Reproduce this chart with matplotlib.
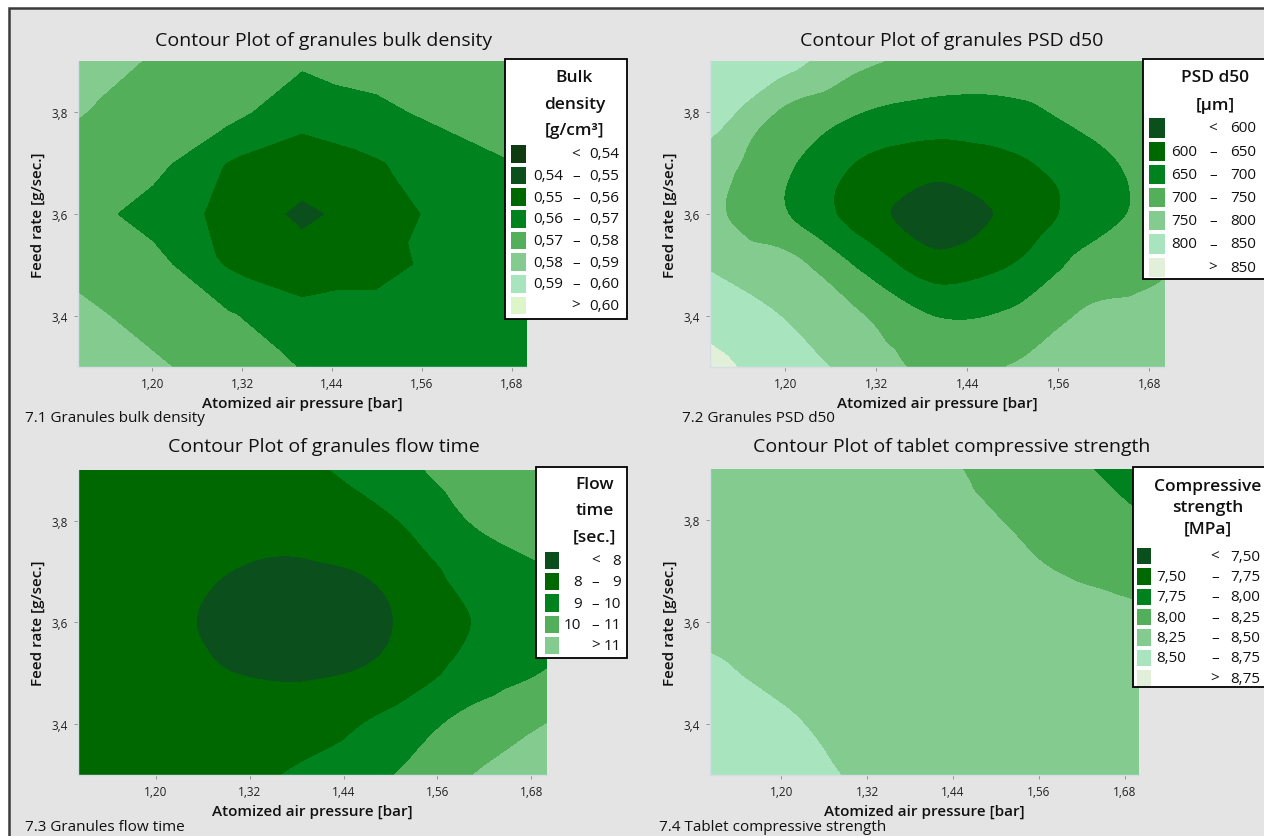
import numpy as np
import matplotlib
matplotlib.use('Agg')
import matplotlib.pyplot as plt
import matplotlib.tri as mtri
from matplotlib.patches import Rectangle

plt.rcParams['font.family'] = ['Open Sans', 'DejaVu Sans']

# grid of the response surface (atomized air pressure x feed rate)
pressure = [1.10, 1.20, 1.30, 1.40, 1.50, 1.60, 1.70]
feed = [3.30, 3.40, 3.50, 3.60, 3.70, 3.80, 3.90]

# rows = feed 3.3 -> 3.9, columns = pressure 1.1 -> 1.7
bulk_z = [
    [0.5860, 0.5815, 0.5755, 0.5695, 0.5655, 0.5645, 0.5650],
    [0.5825, 0.5765, 0.5712, 0.5625, 0.5625, 0.5625, 0.5635],
    [0.5770, 0.5738, 0.5590, 0.5553, 0.5575, 0.5625, 0.5650],
    [0.5748, 0.5653, 0.5575, 0.5475, 0.5550, 0.5633, 0.5675],
    [0.5765, 0.5734, 0.5596, 0.5563, 0.5590, 0.5660, 0.5705],
    [0.5805, 0.5760, 0.5735, 0.5625, 0.5680, 0.5725, 0.5750],
    [0.5855, 0.5790, 0.5755, 0.5716, 0.5735, 0.5765, 0.5780],
]
psd_z = [
    [865, 821, 783, 735, 752, 765, 772],
    [830, 797, 752, 698, 708, 756, 762],
    [795, 768, 690, 619, 650, 718, 745],
    [763, 702, 626, 572, 613, 674, 722],
    [778, 709, 645, 621, 640, 682, 725],
    [830, 740, 700, 683, 688, 715, 730],
    [845, 818, 760, 735, 730, 735, 740],
]
flow_z = [
    [8.55, 8.45, 8.70, 9.25, 9.95, 10.95, 11.60],
    [8.60, 8.35, 8.30, 8.55, 9.30, 10.30, 11.00],
    [8.65, 8.30, 8.00, 7.93, 8.25, 9.35, 10.05],
    [8.60, 8.20, 7.85, 7.75, 7.97, 8.97, 9.60],
    [8.65, 8.30, 7.99, 7.93, 8.20, 9.35, 9.95],
    [8.70, 8.45, 8.25, 8.30, 8.90, 10.00, 10.60],
    [8.75, 8.60, 8.50, 8.85, 9.60, 10.50, 10.90],
]
strength_z = [
    [8.62, 8.56, 8.49, 8.45, 8.42, 8.40, 8.38],
    [8.58, 8.52, 8.46, 8.43, 8.40, 8.38, 8.36],
    [8.52, 8.47, 8.44, 8.41, 8.38, 8.35, 8.33],
    [8.47, 8.44, 8.41, 8.38, 8.35, 8.31, 8.28],
    [8.44, 8.41, 8.38, 8.34, 8.29, 8.24, 8.19],
    [8.42, 8.39, 8.35, 8.30, 8.255, 8.15, 8.02],
    [8.41, 8.37, 8.32, 8.28, 8.21, 8.05, 7.90],
]

bulk_bounds = [0.54, 0.55, 0.56, 0.57, 0.58, 0.59, 0.60]
bulk_labels = ['0,54', '0,55', '0,56', '0,57', '0,58', '0,59', '0,60']
psd_bounds = [600, 650, 700, 750, 800, 850]
psd_labels = ['600', '650', '700', '750', '800', '850']
flow_bounds = [8, 9, 10, 11]
flow_labels = ['8', '9', '10', '11']
strength_bounds = [7.50, 7.75, 8.00, 8.25, 8.50, 8.75]
strength_labels = ['7,50', '7,75', '8,00', '8,25', '8,50', '8,75']

x_ticks = [1.20, 1.32, 1.44, 1.56, 1.68]
x_ticklabels = ['1,20', '1,32', '1,44', '1,56', '1,68']
y_ticks = [3.4, 3.6, 3.8]
y_ticklabels = ['3,4', '3,6', '3,8']

greens8 = ['#0e3b10', '#0b4f1d', '#006800', '#00831f', '#54af5b', '#83cb8e', '#a8e5be', '#dcf5c9']
greens7 = ['#0b4f1d', '#006800', '#00831f', '#54af5b', '#83cb8e', '#a8e5be', '#e2efd9']
greens5 = greens7[:5]

W, H = 1264, 837
fig = plt.figure(figsize=(W / 100, H / 100), dpi=100)
fig.patch.set_facecolor('white')

# grey framed background
fig.patches.append(Rectangle((8.5 / W, -0.1), 1.2, 1 - 8.5 / H + 0.1, transform=fig.transFigure,
                             facecolor='#e4e4e4', edgecolor='#3a3a3a', linewidth=1.8, zorder=-10))


def fx(px):
    return px / W


def fy(py):
    return 1 - py / H


def grid_triangles():
    # split every cell along the diagonal that follows the contours around the centre point
    nx = len(pressure)
    tris = []
    for i in range(len(feed) - 1):
        for j in range(nx - 1):
            a = i * nx + j
            b, c = a + 1, a + nx
            d = c + 1
            cx = (pressure[j] + pressure[j + 1]) / 2 - 1.4
            cy = (feed[i] + feed[i + 1]) / 2 - 3.6
            if cx * cy < 0:
                tris += [[a, b, d], [a, d, c]]
            else:
                tris += [[a, b, c], [b, d, c]]
    return tris


def contour_panel(box, z, bounds, colors, smooth=True):
    l, t, r, b = box
    ax = fig.add_axes([fx(l), fy(b), (r - l) / W, (b - t) / H])
    xx, yy = np.meshgrid(pressure, feed)
    zz = np.array(z, dtype=float).ravel()
    if smooth:
        tri = mtri.Triangulation(xx.ravel(), yy.ravel())
        interp = mtri.CubicTriInterpolator(tri, zz, kind='geom')
        tri_f, z_f = mtri.UniformTriRefiner(tri).refine_field(zz, triinterpolator=interp, subdiv=4)
    else:
        tri_f = mtri.Triangulation(xx.ravel(), yy.ravel(), grid_triangles())
        z_f = zz
    levels = [min(z_f.min(), bounds[0]) - 1] + list(bounds) + [max(z_f.max(), bounds[-1]) + 1]
    cs = ax.tricontourf(tri_f, z_f, levels=levels, colors=colors)
    cs.set_edgecolor('face')
    cs.set_linewidth(0.4)
    ax.set_xlim(1.1, 1.7)
    ax.set_ylim(3.3, 3.9)
    ax.set_xticks(x_ticks)
    ax.set_xticklabels(x_ticklabels)
    ax.set_yticks(y_ticks)
    ax.set_yticklabels(y_ticklabels)
    ax.tick_params(labelsize=8.5, length=3, width=0.6, color='#8a8a8a', labelcolor='#222222', pad=4)
    for s in ['top', 'right']:
        ax.spines[s].set_visible(False)
    for s in ['left', 'bottom']:
        ax.spines[s].set_color('#d6dde6')
        ax.spines[s].set_linewidth(1.0)
    return ax


def legend_box(box, title_lines, title_y, title_cx, rows_y, sw_x, cols, entries, colors, low_ha='right'):
    l, t, r, b = box
    fig.patches.append(Rectangle((fx(l), fy(b)), (r - l) / W, (b - t) / H, transform=fig.transFigure,
                                 facecolor='white', edgecolor='black', linewidth=1.3, zorder=5))
    for line, y in zip(title_lines, title_y):
        fig.text(fx(title_cx), fy(y), line, ha='center', va='center', fontsize=12.5,
                 fontweight='semibold', color='#111111', zorder=7)
    sw_h = (rows_y[1] - rows_y[0]) - 4
    for (low, sym, high), y, c in zip(entries, rows_y, colors):
        fig.patches.append(Rectangle((fx(sw_x[0]), fy(y + sw_h / 2)), (sw_x[1] - sw_x[0]) / W, sw_h / H,
                                     transform=fig.transFigure, facecolor=c, edgecolor='none', zorder=6))
        if low:
            fig.text(fx(cols[0]), fy(y), low, ha=low_ha, va='center', fontsize=11, color='#111111', zorder=7)
        fig.text(fx(cols[1]), fy(y), sym, ha='center', va='center', fontsize=11, color='#111111', zorder=7)
        fig.text(fx(cols[2]), fy(y), high, ha='right', va='center', fontsize=11, color='#111111', zorder=7)


def make_entries(labels):
    ent = [('', '<', labels[0])]
    for a, b in zip(labels[:-1], labels[1:]):
        ent.append((a, '\u2013', b))
    ent.append(('', '>', labels[-1]))
    return ent


panels = [
    # axes box, title centre, title, caption pos, caption
    ((77.5, 62, 526.5, 368), (324, 41), 'Contour Plot of granules bulk density', (25, 419), '7.1 Granules bulk density'),
    ((709.6, 62, 1164.5, 368), (952, 41), 'Contour Plot of granules PSD d50', (682, 419), '7.2 Granules PSD d50'),
    ((77.5, 470.7, 547, 776), (324, 447), 'Contour Plot of granules flow time', (25, 828), '7.3 Granules flow time'),
    ((709.6, 470, 1139, 776), (952, 447), 'Contour Plot of tablet compressive strength', (659, 828), '7.4 Tablet compressive strength'),
]
data = [(bulk_z, bulk_bounds, greens8, False), (psd_z, psd_bounds, greens7, True),
        (flow_z, flow_bounds, greens5, True), (strength_z, strength_bounds, greens7, True)]

for (box, tpos, title, cpos, caption), (z, bounds, cols, smooth) in zip(panels, data):
    ax = contour_panel(box, z, bounds, cols, smooth)
    l, t, r, b = box
    fig.text(fx(tpos[0]), fy(tpos[1]), title, ha='center', va='center', fontsize=14, color='#111111')
    fig.text(fx((l + r) / 2), fy(b + 36), 'Atomized air pressure [bar]', ha='center', va='center',
             fontsize=11, fontweight='semibold', color='#111111')
    fig.text(fx(l - 40), fy((t + b) / 2), 'Feed rate [g/sec.]', ha='center', va='center', rotation=90,
             fontsize=11, fontweight='semibold', color='#111111')
    fig.text(fx(cpos[0]), fy(cpos[1]), caption, ha='left', va='center', fontsize=11, color='#111111')

legend_box((505, 60, 627, 320), ['Bulk', 'density', '[g/cm\u00b3]'], [78, 105, 131], 574.5,
           [155 + 21.65 * i for i in range(8)], (511, 526), (563.5, 576, 619.5),
           make_entries(bulk_labels), greens8)
legend_box((1142.6, 60, 1290, 280), ['PSD d50', '[\u00b5m]'], [78, 106], 1215,
           [129 + 23.2 * i for i in range(7)], (1148.5, 1165), (1197, 1213, 1256),
           make_entries(psd_labels), greens7)
legend_box((536, 467.7, 626.5, 659), ['Flow', 'time', '[sec.]'], [485, 511, 537], 594.7,
           [561.5 + 21.3 * i for i in range(5)], (545, 559), (581.5, 595.5, 621),
           make_entries(flow_labels), greens5)
legend_box((1132.5, 468, 1290, 688), ['Compressive', 'strength', '[MPa]'], [487.5, 508.5, 529], 1208,
           [557.3 + 20.3 * i for i in range(7)], (1137, 1151), (1156, 1215, 1260),
           make_entries(strength_labels), greens7, low_ha='left')

fig.savefig('out.png', dpi=100, facecolor=fig.get_facecolor())
